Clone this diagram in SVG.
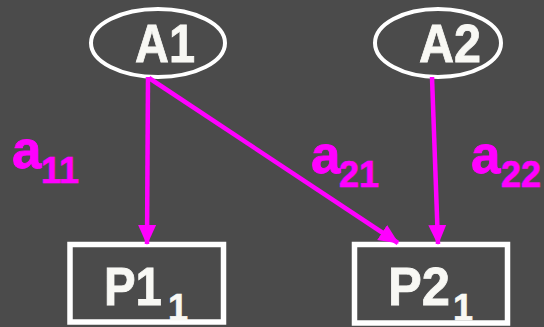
<svg xmlns="http://www.w3.org/2000/svg" width="544" height="327" viewBox="0 0 544 327">
  <defs>
    <style>
      .node { fill: none; stroke: #ffffff; stroke-width: 4; }
      .box { fill: none; stroke: #ffffff; stroke-width: 5.5; }
      .name { font-family: "Liberation Sans", Arial, sans-serif; font-weight: bold; font-size: 54px; fill: #f8f8f4; stroke: #f8f8f4; stroke-width: 0.8; }
      .sub { font-family: "Liberation Sans", Arial, sans-serif; font-weight: bold; font-size: 36px; fill: #f8f8f4; stroke: #f8f8f4; stroke-width: 0.6; }
      .edge { fill: none; stroke: #ff00ff; stroke-width: 4.5; }
      .lbl { font-family: "Liberation Sans", Arial, sans-serif; font-weight: bold; font-size: 53px; fill: #ff00ff; stroke: #ff00ff; stroke-width: 0.8; }
      .lsub { font-family: "Liberation Sans", Arial, sans-serif; font-weight: bold; font-size: 36px; fill: #ff00ff; stroke: #ff00ff; stroke-width: 0.6; }
    </style>
    <marker id="head" markerUnits="userSpaceOnUse" markerWidth="20" markerHeight="20" viewBox="0 0 20 20" refX="19" refY="10" orient="auto">
      <path d="M0,1 L20,10 L0,19 Z" fill="#ff00ff"/>
    </marker>
  </defs>

  <rect width="544" height="327" fill="#4b4b4b"/>

  <g id="A1">
    <ellipse class="node" cx="158" cy="43" rx="67" ry="34"/>
    <text class="name" x="135" y="62" textLength="60" lengthAdjust="spacingAndGlyphs">A1</text>
  </g>

  <g id="A2">
    <ellipse class="node" cx="438" cy="43" rx="63" ry="34"/>
    <text class="name" x="419" y="62" textLength="62" lengthAdjust="spacingAndGlyphs">A2</text>
  </g>

  <g id="P1">
    <rect class="box" x="70" y="244.5" width="153.5" height="77.5"/>
    <text class="name" x="104" y="305" textLength="58" lengthAdjust="spacingAndGlyphs">P1</text>
    <text class="sub" x="168" y="320">1</text>
  </g>

  <g id="P2">
    <rect class="box" x="354.5" y="244.5" width="153" height="78.5"/>
    <text class="name" x="388" y="305" textLength="62" lengthAdjust="spacingAndGlyphs">P2</text>
    <text class="sub" x="453" y="320">1</text>
  </g>

  <g id="connectors">
    <line class="edge" x1="148" y1="77" x2="147" y2="244" marker-end="url(#head)"/>
    <line class="edge" x1="149" y1="78" x2="398" y2="243" marker-end="url(#head)"/>
    <line class="edge" x1="432" y1="77" x2="438" y2="244" marker-end="url(#head)"/>
  </g>

  <g id="labels">
    <text class="lbl" x="12" y="168">a</text>
    <text class="lsub" x="41" y="183">11</text>
    <text class="lbl" x="311" y="173">a</text>
    <text class="lsub" x="339" y="187">21</text>
    <text class="lbl" x="471" y="173">a</text>
    <text class="lsub" x="501" y="187">22</text>
  </g>
</svg>
